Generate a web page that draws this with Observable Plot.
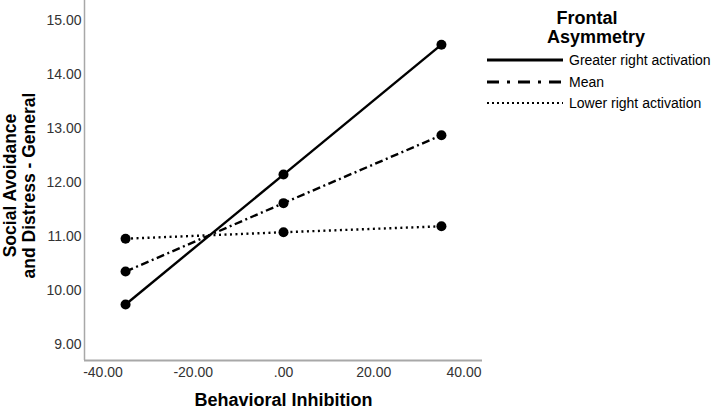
<!DOCTYPE html>
<html>
<head>
<meta charset="utf-8">
<script src="https://cdn.jsdelivr.net/npm/d3@7"></script>
<script src="https://cdn.jsdelivr.net/npm/@observablehq/plot@0.6"></script>
<style>
  html, body { margin: 0; padding: 0; background: #fff; }
  #wrap { position: relative; width: 712px; height: 408px; font-family: "Liberation Sans", Arial, sans-serif; }
  #legend { position: absolute; left: 480px; top: 0; width: 232px; }
  #legend .title { position: absolute; left: 67px; width: 80px; text-align: center; font-weight: bold; font-size: 18px; line-height: 19px; top: 9px; color: #000; }
  #legend .row { position: absolute; left: 7px; height: 20px; display: flex; align-items: center; font-size: 14px; color: #000; white-space: nowrap; }
  #legend svg { margin-right: 6px; }
</style>
</head>
<body>
<div id="wrap"><div id="chart"></div><div id="legend"></div></div>
<script>
const xValues = [-35, 0, 35];
const seriesNames = ["Greater right activation", "Mean", "Lower right activation"];
const greaterRight = [9.74, 12.15, 14.56];
const meanValues = [10.35, 11.62, 12.88];
const lowerRight = [10.96, 11.08, 11.19];
const yTicks = [9, 10, 11, 12, 13, 14, 15];
const xTicks = [-40, -20, 0, 20, 40];

const dashes = {"Greater right activation": null, "Mean": "8,3.5,2,3.5", "Lower right activation": "2,3.5"};
const legendDashes = {"Greater right activation": null, "Mean": "12,8,3,8", "Lower right activation": "2,3"};
const seriesValues = [greaterRight, meanValues, lowerRight];

const data = [];
seriesNames.forEach((s, i) => xValues.forEach((x, j) => data.push({series: s, x, y: seriesValues[i][j]})));

const fmt = d => d === 0 ? ".00" : d.toFixed(2).replace("\u2212", "-");

const xDomain = [-44.1, 44.1];
const yDomain = [8.70, 15.38];

const lineMarks = seriesNames.map(s => Plot.line(data.filter(d => d.series === s), {
  x: "x", y: "y", stroke: "#000", strokeWidth: 2.4,
  strokeDasharray: dashes[s], strokeLinecap: "butt"
}));

const chart = Plot.plot({
  width: 712,
  height: 408,
  marginLeft: 84,
  marginRight: 230,
  marginTop: 0,
  marginBottom: 48,
  style: {fontFamily: "Liberation Sans, Arial, sans-serif", background: "#fff", overflow: "visible"},
  x: {domain: xDomain, ticks: xTicks},
  y: {domain: yDomain, ticks: yTicks},
  marks: [
    Plot.ruleY([yDomain[0]], {stroke: "#a8a8a8", strokeWidth: 2}),
    Plot.ruleX([xDomain[0]], {stroke: "#a8a8a8", strokeWidth: 1.5}),
    Plot.axisY({ticks: yTicks, tickFormat: fmt, tickSize: 0, tickPadding: 3, fontSize: 14, color: "#333", label: null}),
    Plot.axisX({ticks: xTicks, tickFormat: fmt, tickSize: 0, tickPadding: 7, fontSize: 14, color: "#333", label: null}),
    ...lineMarks,
    Plot.dot(data, {x: "x", y: "y", r: 5, fill: "#000"}),
    Plot.text(["Social Avoidance\nand Distress - General"], {
      frameAnchor: "left", textAnchor: "middle", rotate: -90, dx: -65, dy: 5, fontSize: 17.5, fontWeight: "bold", fill: "#000", lineHeight: 1.05
    }),
    Plot.text(["Behavioral Inhibition"], {
      frameAnchor: "bottom", dy: 45, fontSize: 18, fontWeight: "bold", fill: "#000"
    })
  ]
});
document.getElementById("chart").appendChild(chart);

// Legend
const legend = document.getElementById("legend");
const title = document.createElement("div");
title.className = "title";
title.innerHTML = "Frontal<br>Asymmetry";
legend.appendChild(title);
const rowY = [50, 72, 93];
seriesNames.forEach((s, i) => {
  const row = document.createElement("div");
  row.className = "row";
  row.style.top = rowY[i] + "px";
  const ns = "http://www.w3.org/2000/svg";
  const svg = document.createElementNS(ns, "svg");
  svg.setAttribute("width", 76); svg.setAttribute("height", 20);
  const ln = document.createElementNS(ns, "line");
  ln.setAttribute("x1", 0); ln.setAttribute("x2", 76);
  ln.setAttribute("y1", 10); ln.setAttribute("y2", 10);
  ln.setAttribute("stroke", "#000");
  ln.setAttribute("stroke-width", i === 2 ? 2 : 3);
  if (legendDashes[s]) ln.setAttribute("stroke-dasharray", legendDashes[s]);
  svg.appendChild(ln);
  row.appendChild(svg);
  const t = document.createElement("span");
  t.textContent = s;
  row.appendChild(t);
  legend.appendChild(row);
});
</script>
</body>
</html>
